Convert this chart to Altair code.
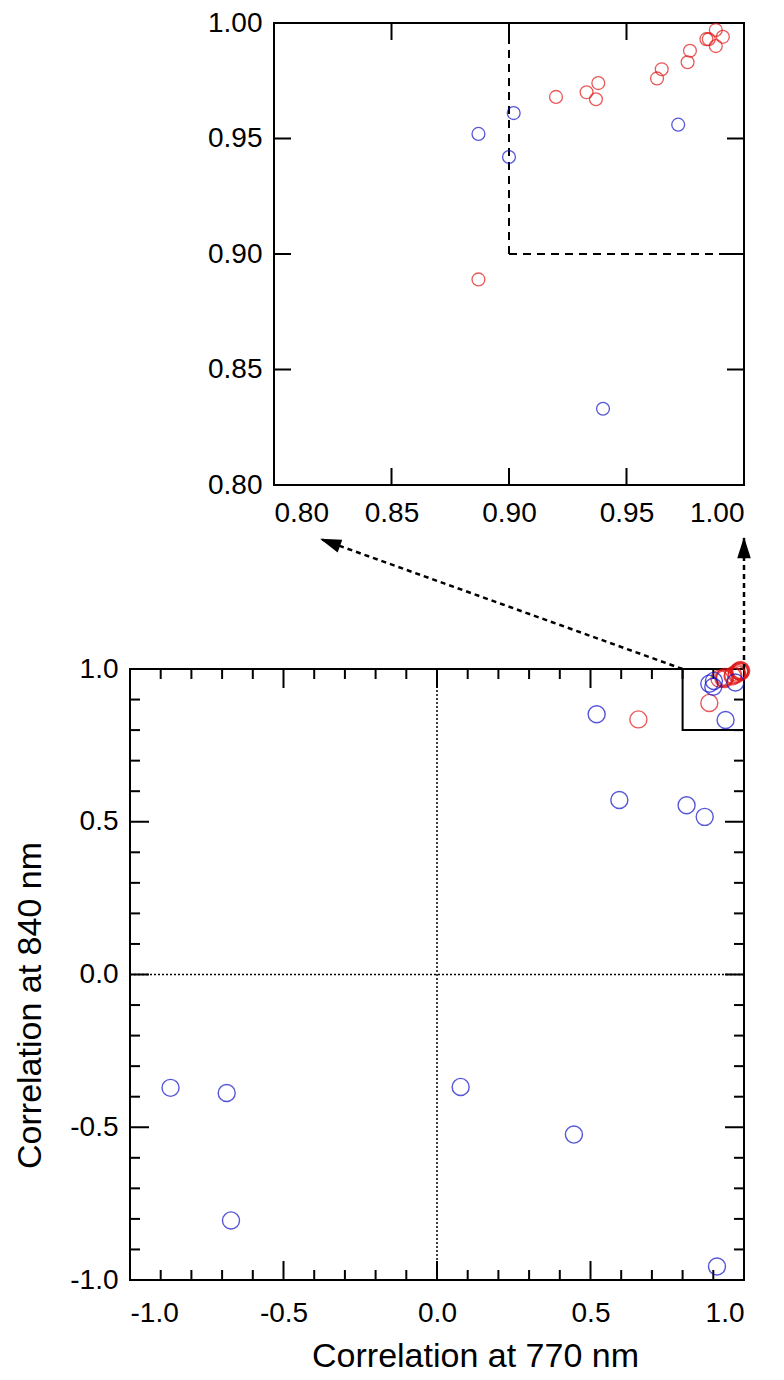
import altair as alt
import pandas as pd

# ---------------- data ----------------
# correlation pairs (770 nm, 840 nm); group: "b" blue, "r" red
x770 = [0.887, 0.920, 0.933, 0.937, 0.938, 0.963, 0.965, 0.976, 0.977, 0.984, 0.985, 0.988, 0.988, 0.991,
        0.887, 0.900, 0.902, 0.972, 0.940,
        0.656,
        0.520, 0.594, 0.813, 0.872, -0.868, -0.685, -0.671, 0.077, 0.446, 0.912]
y840 = [0.889, 0.968, 0.970, 0.967, 0.974, 0.976, 0.980, 0.983, 0.988, 0.993, 0.993, 0.997, 0.990, 0.994,
        0.952, 0.942, 0.961, 0.956, 0.833,
        0.835,
        0.852, 0.571, 0.554, 0.516, -0.371, -0.388, -0.805, -0.368, -0.524, -0.956]
group = ["r"] * 14 + ["b"] * 5 + ["r"] + ["b"] * 10

main_major = [-0.5, 0.0, 0.5]
main_minor = [-0.9, -0.8, -0.7, -0.6, -0.4, -0.3, -0.2, -0.1, 0.1, 0.2, 0.3, 0.4, 0.6, 0.7, 0.8, 0.9]
main_labels = [-1.0, -0.5, 0.0, 0.5, 1.0]
inset_major = [0.85, 0.90, 0.95]
inset_labels = [0.80, 0.85, 0.90, 0.95, 1.00]

# dashed guide in inset
guide_x0 = [0.90, 0.90]
guide_y0 = [0.90, 0.90]
guide_x1 = [0.90, 1.00]
guide_y1 = [1.00, 0.90]

# arrows (in main-plot coordinates, extending above the plot)
arrow_x0 = [0.80, 1.00]
arrow_y0 = [1.00, 1.00]
arrow_x1 = [-0.381, 1.00]
arrow_y1 = [1.426, 1.432]
arrow_ang = [290, 0]

BLUE = "#1010c8"
RED = "#e01414"
FONT = "Liberation Sans"

pts = pd.DataFrame({"x": x770, "y": y840, "g": group})
inset_pts = pts[(pts.x >= 0.8) & (pts.y >= 0.8)]
one = pd.DataFrame({"a": [0]})

color = alt.Color("g:N", scale=alt.Scale(domain=["b", "r"], range=[BLUE, RED]), legend=None)

# ---------------- main plot ----------------
W, H = 614, 611
xs = alt.Scale(domain=[-1, 1], nice=False, zero=False)
ys = alt.Scale(domain=[-1, 1], nice=False, zero=False)
lab_expr = "replace(format(datum.value, '.1f'), '\u2212', '-')"

xaxis = alt.Axis(values=main_labels, labelExpr=lab_expr, ticks=False, tickSize=0, domain=False, grid=False,
                 labelFontSize=28, labelPadding=19, title="Correlation at 770 nm", titleFontSize=34,
                 titleFontWeight="normal", titlePadding=12, titleX=345, labelFont=FONT, titleFont=FONT,
                 labelColor="black", titleColor="black")
yaxis = alt.Axis(values=main_labels, labelExpr=lab_expr, ticks=False, tickSize=0, domain=False, grid=False,
                 labelFontSize=28, labelPadding=12, title="Correlation at 840 nm", titleFontSize=34,
                 titleFontWeight="normal", titlePadding=22, titleY=336, labelFont=FONT, titleFont=FONT,
                 labelColor="black", titleColor="black")

base = alt.Chart(one)

frame = base.mark_rect(fillOpacity=0, stroke="black", strokeWidth=2).encode(
    x=alt.X(datum=-1, scale=xs, axis=xaxis), x2=alt.X2(datum=1),
    y=alt.Y(datum=-1, scale=ys, axis=yaxis), y2=alt.Y2(datum=1))

zero_df = pd.DataFrame({"v": [0.0]})
vdot = alt.Chart(zero_df).mark_rule(color="black", strokeWidth=1.5, strokeDash=[2, 2]).encode(
    x="v:Q", y=alt.datum(-1), y2=alt.datum(1))
hdot = alt.Chart(zero_df).mark_rule(color="black", strokeWidth=1.5, strokeDash=[2, 2]).encode(
    y="v:Q", x=alt.datum(-1), x2=alt.datum(1))

box = base.mark_rect(fillOpacity=0, stroke="black", strokeWidth=2).encode(
    x=alt.datum(0.8), x2=alt.datum(1.0), y=alt.datum(0.8), y2=alt.datum(1.0))


def tick_layers(vals, lo, hi, length):
    df = pd.DataFrame({"v": vals})
    c = alt.Chart(df)
    return [
        c.mark_rule(color="black", strokeWidth=2, y2Offset=length).encode(x="v:Q", y=alt.datum(hi), y2=alt.datum(hi)),
        c.mark_rule(color="black", strokeWidth=2, y2Offset=-length).encode(x="v:Q", y=alt.datum(lo), y2=alt.datum(lo)),
        c.mark_rule(color="black", strokeWidth=2, x2Offset=length).encode(y="v:Q", x=alt.datum(lo), x2=alt.datum(lo)),
        c.mark_rule(color="black", strokeWidth=2, x2Offset=-length).encode(y="v:Q", x=alt.datum(hi), x2=alt.datum(hi)),
    ]


main_ticks = tick_layers(main_major, -1, 1, 19) + tick_layers(main_minor, -1, 1, 10)

main_pts = alt.Chart(pts).mark_point(shape="circle", filled=False, size=290, strokeWidth=1.4).encode(
    x="x:Q", y="y:Q", color=color)

arr_df = pd.DataFrame({"x0": arrow_x0, "y0": arrow_y0, "x1": arrow_x1, "y1": arrow_y1, "ang": arrow_ang})
arrows = alt.Chart(arr_df).mark_rule(color="black", strokeWidth=2.5, strokeDash=[5, 4]).encode(
    x="x0:Q", y="y0:Q", x2="x1:Q", y2="y1:Q")
heads = alt.Chart(arr_df).mark_point(shape="M0,0L-0.32,1L0.32,1Z", filled=True, size=1800, opacity=1,
                                     color="black").encode(
    x="x1:Q", y="y1:Q", angle=alt.Angle("ang:Q", scale=None))

main = alt.layer(frame, vdot, hdot, box, *main_ticks, main_pts, arrows, heads).properties(width=W, height=H)

# ---------------- inset plot ----------------
IH = 462
ixs = alt.Scale(domain=[0.8, 1.0], range=[144, W], nice=False, zero=False)
iys = alt.Scale(domain=[0.8, 1.0], nice=False, zero=False)
ixaxis = alt.Axis(values=inset_labels, format=".2f", ticks=False, tickSize=0, domain=False, grid=False,
                  labelFontSize=28, labelPadding=14, title=None, labelFont=FONT, labelColor="black")
iyaxis = alt.Axis(values=inset_labels, format=".2f", ticks=False, tickSize=0, domain=False, grid=False,
                  labelFontSize=28, labelPadding=12, title=None, offset=-144, labelFont=FONT, labelColor="black")

iframe = base.mark_rect(fillOpacity=0, stroke="black", strokeWidth=2).encode(
    x=alt.X(datum=0.8, scale=ixs, axis=ixaxis), x2=alt.X2(datum=1.0),
    y=alt.Y(datum=0.8, scale=iys, axis=iyaxis), y2=alt.Y2(datum=1.0))

g_df = pd.DataFrame({"x0": guide_x0, "y0": guide_y0, "x1": guide_x1, "y1": guide_y1})
guides = alt.Chart(g_df).mark_rule(color="black", strokeWidth=2, strokeDash=[8, 6]).encode(
    x="x0:Q", y="y0:Q", x2="x1:Q", y2="y1:Q")

inset_ticks = tick_layers(inset_major, 0.8, 1.0, 17)

ipts = alt.Chart(inset_pts).mark_point(shape="circle", filled=False, size=165, strokeWidth=1.3).encode(
    x="x:Q", y="y:Q", color=color)

inset = alt.layer(iframe, guides, *inset_ticks, ipts).properties(width=W, height=IH)

chart = alt.vconcat(inset, main, spacing=184, bounds="flush").configure_view(
    stroke="transparent").properties(padding={"left": 5, "top": 0, "right": 5, "bottom": 5})

chart.save("out.html", embed_options={"renderer": "svg", "actions": False})
